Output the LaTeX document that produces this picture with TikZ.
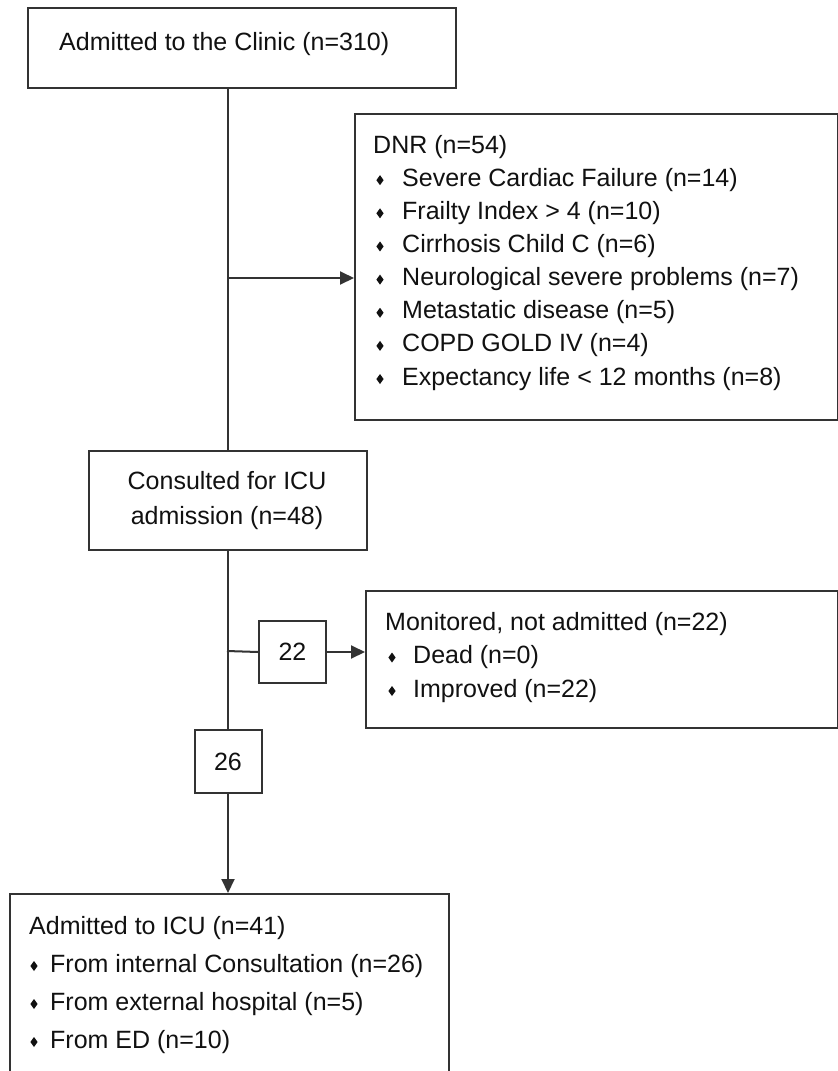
\documentclass[tikz,border=0pt]{standalone}
\usepackage{fontspec}
\setmainfont{Liberation Sans}
\usetikzlibrary{arrows.meta}
\definecolor{linec}{HTML}{333333}
\definecolor{txtc}{HTML}{111111}
\begin{document}
\begin{tikzpicture}[x=1pt,y=-1pt,
  box/.style={draw=linec, line width=2pt, rectangle, inner sep=0pt, anchor=north west},
  numbox/.style={box, text=txtc, font=\fontsize{25}{30}\selectfont},
  txt/.style={text=txtc, font=\fontsize{25}{30}\selectfont, inner sep=0pt, anchor=base west},
  conn/.style={draw=linec, line width=2pt},
  arr/.style={conn, -{Triangle[length=14pt,width=13pt]}},
  bul/.style={fill=txtc}]
\useasboundingbox (0,0) rectangle (838,1071);
\clip (0,0) rectangle (838,1071);
\fill[white] (0,0) rectangle (838,1071);

% boxes
\node[box, minimum width=428pt, minimum height=80pt] (top) at (27,7) {};
\node[box, minimum width=483pt, minimum height=306pt] (dnr) at (354,113) {};
\node[box, minimum width=278pt, minimum height=99pt] (cons) at (88,450) {};
\node[box, minimum width=472pt, minimum height=137pt] (mon) at (365,590) {};
\node[numbox, minimum width=67pt, minimum height=62pt] (n22) at (258,620) {22};
\node[numbox, minimum width=67pt, minimum height=63pt] (n26) at (193.5,729) {26};
\node[box, minimum width=439pt, minimum height=220pt] (icu) at (9,893) {};

% connectors
\coordinate (j1) at (227,278);
\coordinate (j2) at (227,651);
\draw[conn] (top.south -| cons.north) -- (cons.north);
\draw[arr] (j1) -- (j1 -| dnr.west);
\draw[conn] (cons.south) -- (n26.north);
\draw[conn] (j2) -- (n22.west);
\draw[arr] (n22.east) -- (n22.east -| mon.west);
\draw[arr] (n26.south) -- (n26.south |- icu.north);

% texts
\node[txt] (ttop) at (59,50) {Admitted to the Clinic (n=310)};
\node[txt, anchor=base] (tc1) at (227,489) {Consulted for ICU};
\node[txt, anchor=base] (tc2) at (227,524) {admission (n=48)};

\node[txt] (d0) at (373,153) {DNR (n=54)};
\foreach \t [count=\i] in {{Severe Cardiac Failure (n=14)},{Frailty Index > 4 (n=10)},{Cirrhosis Child C (n=6)},{Neurological severe problems (n=7)},{Metastatic disease (n=5)},{COPD GOLD IV (n=4)},{Expectancy life < 12 months (n=8)}}{
  \node[txt] (d\i) at (402,{153+33.15*\i}) {\t};
  \fill[bul] (380,{153+33.15*\i-6}) ++(0,-5) -- ++(3.6,5) -- ++(-3.6,5) -- ++(-3.6,-5) -- cycle;
}

\node[txt] (m0) at (385,630) {Monitored, not admitted (n=22)};
\foreach \t [count=\i] in {{Dead (n=0)},{Improved (n=22)}}{
  \node[txt] (m\i) at (413,{630+33.5*\i}) {\t};
  \fill[bul] (392,{630+33.5*\i-6}) ++(0,-5) -- ++(3.6,5) -- ++(-3.6,5) -- ++(-3.6,-5) -- cycle;
}

\node[txt] (i0) at (29,934) {Admitted to ICU (n=41)};
\foreach \t [count=\i] in {{From internal Consultation (n=26)},{From external hospital (n=5)},{From ED (n=10)}}{
  \node[txt] (i\i) at (50,{934+38*\i}) {\t};
  \fill[bul] (34,{934+38*\i-6}) ++(0,-5) -- ++(3.6,5) -- ++(-3.6,5) -- ++(-3.6,-5) -- cycle;
}
\end{tikzpicture}
\end{document}
